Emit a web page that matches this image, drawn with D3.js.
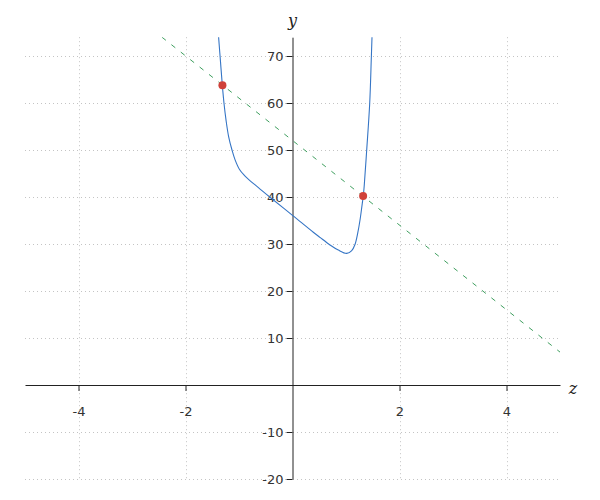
<!DOCTYPE html>
<html><head><meta charset="utf-8">
<script src="https://cdn.jsdelivr.net/npm/d3@7"></script>
<style>body{margin:0;background:#fff}svg{display:block}</style>
</head><body>
<svg id="chart" width="600" height="500"></svg>
<script>
// Data
const curveZ = [-1.40, -1.381, -1.346, -1.312, -1.280, -1.243, -1.193, -1.131, -1.073, -0.990, -0.900, -0.822, -0.632, -0.415, 0.0, 0.389, 0.514, 0.701, 0.856, 1.013, 1.107, 1.168, 1.219, 1.262, 1.305, 1.323, 1.342, 1.387, 1.443, 1.473, 1.486, 1.50];
const curveY = [77, 74.0, 68.8, 63.8, 59.9, 56.4, 52.8, 50.0, 47.9, 45.85, 44.6, 43.75, 41.95, 39.9, 36.1, 32.5, 31.4, 29.8, 28.7, 28.0, 28.6, 29.9, 32.3, 35.1, 38.7, 40.2, 42.6, 50.0, 59.9, 69.5, 74.0, 79];
const lineZ = [-2.44, 5];
const lineY = [74, 7];
const pointZ = [-1.31, 1.32];
const pointY = [63.8, 40.2];
const xTicks = [-4, -2, 2, 4];
const yTicks = [-20, -10, 10, 20, 30, 40, 50, 60, 70];

const svg = d3.select("#chart");
const x = d3.scaleLinear().domain([-5, 5]).range([25, 560]);
const y = d3.scaleLinear().domain([-20, 74]).range([479, 37.2]);

// grid
const grid = svg.append("g").attr("stroke", "#c4c4c4").attr("stroke-width", 1).attr("stroke-dasharray", "1,3");
grid.selectAll("line.v").data(xTicks).join("line")
  .attr("x1", d => Math.round(x(d)) + 0.5).attr("x2", d => Math.round(x(d)) + 0.5)
  .attr("y1", y(74)).attr("y2", y(-20));
grid.selectAll("line.h").data(yTicks).join("line")
  .attr("y1", d => Math.round(y(d)) + 0.5).attr("y2", d => Math.round(y(d)) + 0.5)
  .attr("x1", x(-5)).attr("x2", x(5));

// axes
const fmt = d => d < 0 ? "-" + Math.abs(d) : String(d);
const xAxis = svg.append("g").attr("transform", `translate(0,${y(0)})`)
  .call(d3.axisBottom(x).tickValues(xTicks).tickSize(6).tickSizeOuter(0).tickPadding(16).tickFormat(fmt));
const yAxis = svg.append("g").attr("transform", `translate(${x(0)},0)`)
  .call(d3.axisLeft(y).tickValues(yTicks).tickSize(6).tickSizeOuter(0).tickPadding(3).tickFormat(fmt));
[xAxis, yAxis].forEach(a => {
  a.select(".domain").attr("stroke", "#222");
  a.selectAll(".tick line").attr("stroke", "#222");
  a.selectAll("text").attr("font-family", "DejaVu Sans, sans-serif").attr("font-size", 13).attr("fill", "#333");
});

// axis titles
svg.append("text").attr("x", x(0)).attr("y", 26).attr("text-anchor", "middle")
  .attr("font-family", "DejaVu Serif, serif").attr("font-style", "italic").attr("font-size", 16).attr("fill", "#222").text("y");
svg.append("text").attr("x", 573).attr("y", 394).attr("text-anchor", "middle")
  .attr("font-family", "DejaVu Serif, serif").attr("font-style", "italic").attr("font-size", 16).attr("fill", "#222").text("z");

// clip
svg.append("clipPath").attr("id", "clip").append("rect")
  .attr("x", x(-5)).attr("y", y(74)).attr("width", x(5) - x(-5)).attr("height", y(-20) - y(74));

// dashed line
const lineData = lineZ.map((z, i) => [z, lineY[i]]);
svg.append("path").datum(lineData).attr("clip-path", "url(#clip)")
  .attr("fill", "none").attr("stroke", "#3f9f5f").attr("stroke-width", 1).attr("stroke-dasharray", "5,7")
  .attr("d", d3.line().x(d => x(d[0])).y(d => y(d[1])));

// curve
const curveData = curveZ.map((z, i) => [z, curveY[i]]);
svg.append("path").datum(curveData).attr("clip-path", "url(#clip)")
  .attr("fill", "none").attr("stroke", "#3575c5").attr("stroke-width", 1.1)
  .attr("d", d3.line().curve(d3.curveCatmullRom.alpha(0.5)).x(d => x(d[0])).y(d => y(d[1])));

// points
svg.selectAll("circle.pt").data(pointZ.map((z, i) => [z, pointY[i]])).join("circle")
  .attr("cx", d => x(d[0])).attr("cy", d => y(d[1])).attr("r", 4).attr("fill", "#d0413a");
</script>
</body></html>
